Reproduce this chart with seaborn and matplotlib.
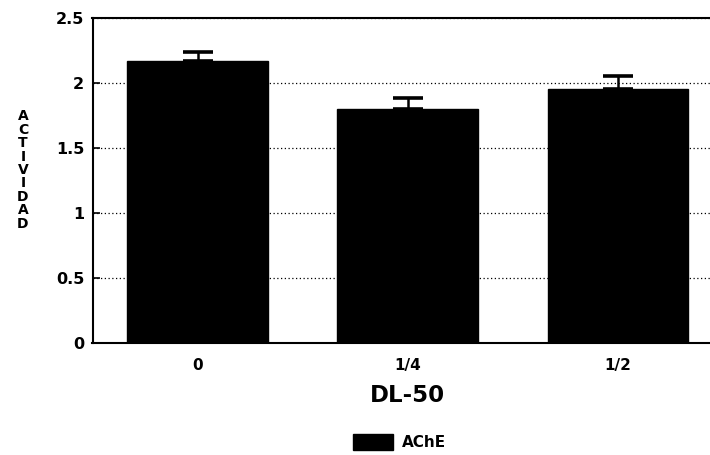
import numpy as np
import pandas as pd
import matplotlib
matplotlib.use("Agg")
import matplotlib.pyplot as plt
import seaborn as sns
from matplotlib.patches import Patch

# data
doses = ["0", "1/4", "1/2"]
actividad = [2.17, 1.80, 1.955]
error_sup = [0.07, 0.085, 0.10]
serie = "AChE"
y_ticks = [0, 0.5, 1, 1.5, 2, 2.5]
y_tick_labels = ["0", "0.5", "1", "1.5", "2", "2.5"]

df = pd.DataFrame({"dosis": doses, "actividad": actividad})

sns.set_theme(style="white")
plt.rcParams["font.family"] = ["DejaVu Sans"]
plt.rcParams["font.weight"] = "bold"
for k in ["text.color", "axes.labelcolor", "xtick.color", "ytick.color"]:
    plt.rcParams[k] = "black"

fig = plt.figure(figsize=(7.1, 4.55), dpi=100)
ax = fig.add_axes([92.5 / 710, 112 / 455, 630.5 / 710, 324.6 / 455])

sns.barplot(data=df, x="dosis", y="actividad", color="black",
            edgecolor="black", width=0.67, errorbar=None, ax=ax, zorder=2)

# upper error bars only
ax.errorbar(np.arange(len(doses)), actividad,
            yerr=[np.zeros(len(doses)), error_sup],
            fmt="none", ecolor="black", elinewidth=1.8,
            capsize=11, capthick=2.6, zorder=3)

ax.set_xlim(-0.5, 2.5)
ax.set_ylim(0, 2.5)
ax.set_yticks(y_ticks)
ax.set_yticklabels(y_tick_labels, fontsize=11.5, fontweight="bold")
ax.tick_params(axis="x", labelsize=11, length=0, pad=11)
for lab in ax.get_xticklabels():
    lab.set_fontweight("bold")
ax.tick_params(axis="y", direction="in", length=5, width=1.2,
               left=True, pad=6)

ax.yaxis.grid(True, linestyle=(0, (1, 2)), color="black", linewidth=0.9)
ax.set_axisbelow(True)

for s in ax.spines.values():
    s.set_color("black")
    s.set_linewidth(1.5)

ax.set_ylabel("")
ax.set_xlabel("DL-50", fontsize=16.5, fontweight="bold", labelpad=8)

# stacked vertical y label
fig.text(23 / 710, 1 - 170 / 455, "\n".join("ACTIVIDAD"),
         ha="center", va="center", fontsize=10, fontweight="bold",
         linespacing=0.95)

fig.legend(handles=[Patch(facecolor="black", edgecolor="black", label=serie)],
           loc="center", bbox_to_anchor=(400 / 710, 1 - 442 / 455),
           frameon=False, handlelength=2.6, handleheight=1.3,
           handletextpad=0.6, prop={"weight": "bold", "size": 11})

fig.savefig("out.png", dpi=100)
